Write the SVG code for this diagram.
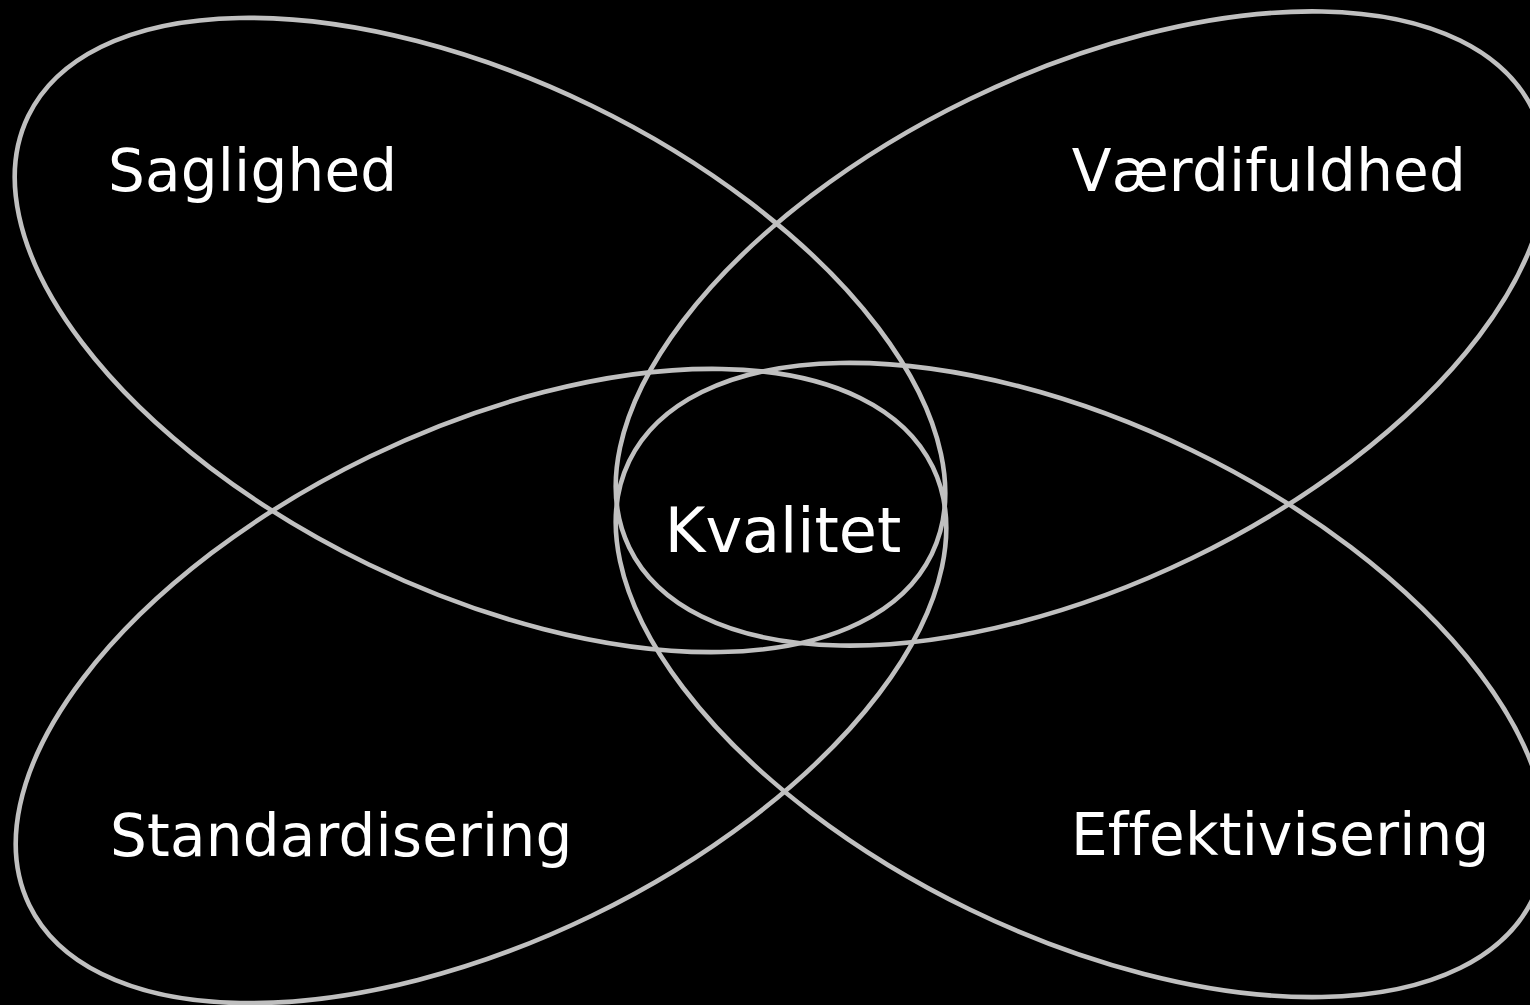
<svg xmlns="http://www.w3.org/2000/svg" width="1530" height="1005" viewBox="0 0 1530 1005">
<style>
.ell{fill:none;stroke:#c0c0c0;stroke-width:4.6}
.lbl{font-family:"DejaVu Sans","Verdana",sans-serif;font-size:58px;letter-spacing:0.2px;font-variant-ligatures:none;fill:#ffffff}
.ctr{font-family:"DejaVu Sans","Verdana",sans-serif;font-size:62px;font-variant-ligatures:none;fill:#ffffff}
</style>
<rect x="0" y="0" width="1530" height="1005" fill="#000000"/>
<g id="connectors"/>
<g id="saglighed">
<ellipse class="ell" cx="480" cy="335" rx="502" ry="255" transform="rotate(25.85 480 335)"/>
<text class="lbl" x="108" y="191">Saglighed</text>
</g>
<g id="vaerdifuldhed">
<ellipse class="ell" cx="1081" cy="328.5" rx="502" ry="255" transform="rotate(-25.85 1081 328.5)"/>
<text class="lbl" x="1466" y="191" text-anchor="end">Værdifuldhed</text>
</g>
<g id="standardisering">
<ellipse class="ell" cx="481" cy="686" rx="502" ry="255" transform="rotate(-25.85 481 686)"/>
<text class="lbl" x="110" y="856">Standardisering</text>
</g>
<g id="effektivisering">
<ellipse class="ell" cx="1081" cy="680" rx="502" ry="255" transform="rotate(25.85 1081 680)"/>
<text class="lbl" x="1071" y="855">Effektivisering</text>
</g>
<g id="kvalitet">
<text class="ctr" x="783" y="552" text-anchor="middle">Kvalitet</text>
</g>
</svg>
